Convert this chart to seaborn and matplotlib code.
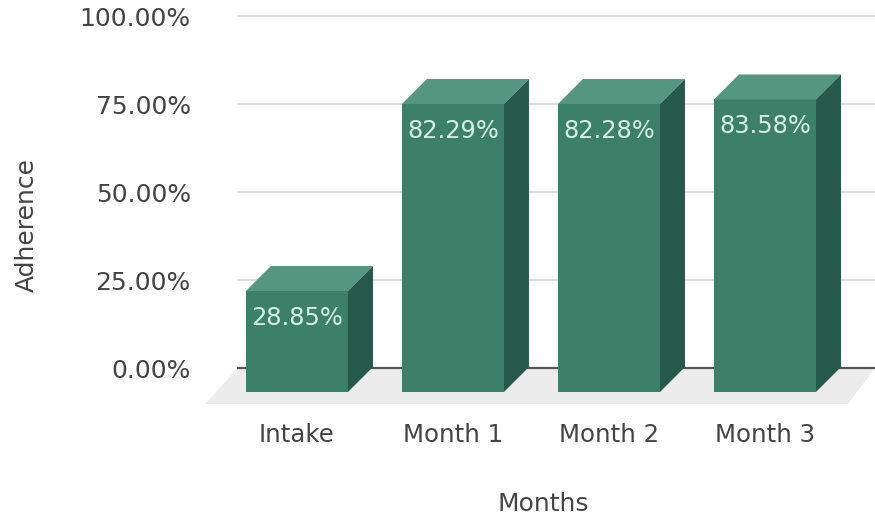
import pandas as pd
import matplotlib
matplotlib.use("Agg")
import matplotlib.pyplot as plt
import seaborn as sns
from matplotlib.patches import Polygon
from matplotlib.transforms import IdentityTransform

months = ["Intake", "Month 1", "Month 2", "Month 3"]
adherence = [28.85, 82.29, 82.28, 83.58]
y_ticks = [0, 25, 50, 75, 100]
y_tick_labels = ["0.00%", "25.00%", "50.00%", "75.00%", "100.00%"]

W, H = 875, 516
DEPTH = 25  # 3d offset of the bars, in pixels
FRONT = "#3d8069"
TOP = "#54967f"
SIDE = "#26594a"
TEXT = "#444444"


def box(left, top, right, bottom):
    # pixel box (from top left of the image) to figure fractions
    return [left / W, 1 - bottom / H, (right - left) / W, (bottom - top) / H]


sns.set_theme(style="white")
plt.rcParams["font.family"] = ["DejaVu Sans"]

fig = plt.figure(figsize=(W / 100, H / 100), dpi=100)

# back wall with the y axis
ax_back = fig.add_axes(box(238, 16, 875, 368))
ax_back.set_ylim(0, 100)
ax_back.set_yticks(y_ticks)
ax_back.set_yticklabels(y_tick_labels, fontsize=18, color=TEXT)
ax_back.set_xticks([])
ax_back.tick_params(axis="y", length=0, pad=34)
ax_back.grid(axis="y", color="#dcdcdc", linewidth=1.5)
for line in ax_back.get_ygridlines():
    line.set_clip_on(False)
sns.despine(ax=ax_back, left=True, right=True, top=True)
ax_back.spines["bottom"].set_color("#555555")
ax_back.spines["bottom"].set_linewidth(1.6)
ax_back.set_ylabel("Adherence", fontsize=18, color=TEXT)
ax_back.yaxis.set_label_coords((39 - 238) / 637, (368 - 225) / 352)

# grey floor under the bars
floor = [(205, H - 404), (238, H - 368), (875, H - 368), (848, H - 404)]
fig.add_artist(Polygon(floor, closed=True, transform=IdentityTransform(),
                       facecolor="#ececec", edgecolor="none", zorder=0))

# front plane with the bars
ax_bars = fig.add_axes(box(213, 42, 850, 392))
ax_bars.patch.set_alpha(0)
df = pd.DataFrame({"month": months, "adherence": adherence})
sns.barplot(data=df, x="month", y="adherence", color=FRONT, saturation=1,
            width=0.654, linewidth=0, edgecolor="none", ax=ax_bars)
ax_bars.set_xlim(-0.538, 3.545)
ax_bars.set_ylim(0, 100)
ax_bars.set_yticks([])
ax_bars.set_ylabel("")
ax_bars.set_xlabel("")
ax_bars.tick_params(axis="x", length=0, pad=22, labelsize=17.6, labelcolor=TEXT)
sns.despine(ax=ax_bars, left=True, bottom=True)

# top and side faces come from the seaborn bars
for bar in ax_bars.patches:
    x0 = bar.get_x()
    x1 = x0 + bar.get_width()
    (px0, py0), (px1, py1) = ax_bars.transData.transform([(x0, 0), (x1, bar.get_height())])
    top_face = [(px0, py1), (px1, py1), (px1 + DEPTH, py1 + DEPTH), (px0 + DEPTH, py1 + DEPTH)]
    side_face = [(px1, py0), (px1 + DEPTH, py0 + DEPTH), (px1 + DEPTH, py1 + DEPTH), (px1, py1)]
    ax_bars.add_patch(Polygon(top_face, transform=IdentityTransform(), facecolor=TOP,
                              edgecolor="none", clip_on=False))
    ax_bars.add_patch(Polygon(side_face, transform=IdentityTransform(), facecolor=SIDE,
                              edgecolor="none", clip_on=False))

ax_bars.bar_label(ax_bars.containers[0], fmt="%.2f%%", padding=-28, fontsize=17.4,
                  color="#d5efe6")

fig.text(543 / W, 1 - 504 / H, "Months", fontsize=18, color=TEXT, ha="center", va="center")

fig.savefig("out.png", dpi=100)
